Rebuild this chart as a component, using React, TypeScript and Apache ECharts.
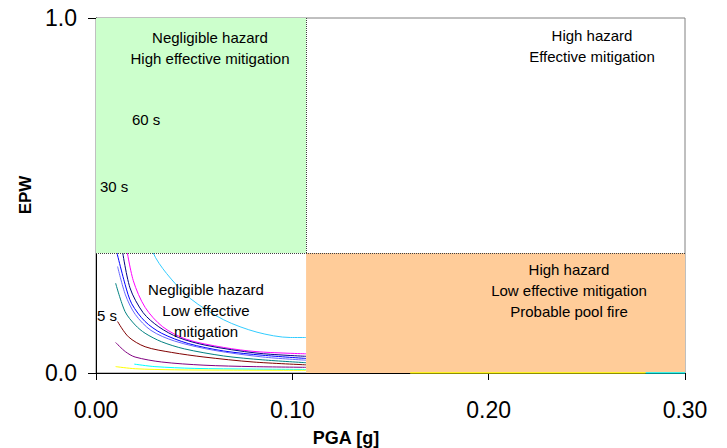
import React, { useEffect, useRef } from "react";
import * as echarts from "echarts";

// Tick labels
const xTicks = ["0.00", "0.10", "0.20", "0.30"];
const yTicks = ["0.0", "1.0"];

// Region boundaries
const pgaLimit = 0.107;
const epwLimit = 0.338;

// Curves [PGA, EPW]
const skyBlueCurve = [[0.0097, 1.0], [0.015, 0.7], [0.022, 0.47], [0.029, 0.34], [0.036, 0.28], [0.048, 0.21], [0.065, 0.15], [0.082, 0.115], [0.099, 0.1], [0.107, 0.1]];
const magentaCurve = [[0.0153, 0.36], [0.019, 0.26], [0.025, 0.185], [0.034, 0.13], [0.046, 0.095], [0.065, 0.072], [0.082, 0.06], [0.107, 0.054]];
const navyCurve = [[0.013, 0.36], [0.0173, 0.24], [0.024, 0.17], [0.032, 0.13], [0.042, 0.1], [0.056, 0.078], [0.082, 0.056], [0.107, 0.047]];
const blueCurve = [[0.0097, 0.36], [0.0148, 0.25], [0.0182, 0.195], [0.025, 0.145], [0.0334, 0.112], [0.047, 0.083], [0.065, 0.062], [0.085, 0.05], [0.107, 0.041]];
const slateCurve = [[0.011, 0.3], [0.015, 0.22], [0.02, 0.165], [0.028, 0.12], [0.04, 0.09], [0.06, 0.064], [0.085, 0.045], [0.107, 0.036]];
const tealCurve = [[0.01, 0.253], [0.0148, 0.173], [0.02, 0.135], [0.025, 0.112], [0.0334, 0.088], [0.045, 0.068], [0.065, 0.048], [0.085, 0.037], [0.107, 0.029]];
const maroonCurve = [[0.011, 0.145], [0.0165, 0.102], [0.025, 0.074], [0.0385, 0.058], [0.055, 0.045], [0.08, 0.031], [0.107, 0.023]];
const purpleCurve = [[0.01, 0.086], [0.015, 0.06], [0.0199, 0.045], [0.0334, 0.031], [0.055, 0.022], [0.08, 0.018], [0.107, 0.016]];
const cyanCurve = [[0.0195, 0.025], [0.03, 0.018], [0.05, 0.013], [0.08, 0.011], [0.107, 0.01]];
const yellowCurve = [[0.01, 0.018], [0.02, 0.012], [0.04, 0.009], [0.07, 0.008], [0.107, 0.0076]];
const yellowTail = [[0.16, 0], [0.28, 0]];
const cyanTail = [[0.28, 0], [0.3, 0]];

const curves = [
  { data: skyBlueCurve, color: "#33CCFF" },
  { data: magentaCurve, color: "#FF00FF" },
  { data: navyCurve, color: "#000080" },
  { data: blueCurve, color: "#0000FF" },
  { data: slateCurve, color: "#6666FF" },
  { data: tealCurve, color: "#008080" },
  { data: maroonCurve, color: "#800000" },
  { data: purpleCurve, color: "#800080" },
  { data: cyanCurve, color: "#00FFFF" },
  { data: yellowCurve, color: "#FFFF00" },
];

const FONT = "Liberation Sans, Arial, sans-serif";

export default function App() {
  const ref = useRef<HTMLDivElement>(null);
  useEffect(() => {
    if (!ref.current) return;
    const chart = echarts.init(ref.current, null, { renderer: "svg" });
    const lineSeries = curves.map((c) => ({
      type: "line",
      data: c.data,
      showSymbol: false,
      smooth: 0.3,
      z: 2,
      lineStyle: { color: c.color, width: 1 },
      silent: true,
    }));
    const tails = [
      { data: yellowTail, color: "#FFFF00" },
      { data: cyanTail, color: "#00FFFF" },
    ].map((c) => ({
      type: "line",
      data: c.data,
      showSymbol: false,
      z: 6,
      lineStyle: { color: c.color, width: 1.5 },
      silent: true,
    }));
    const textStyle = (text: string, x: number, y: number, align = "center") => ({
      type: "text",
      x,
      y,
      z: 10,
      style: {
        text,
        fontSize: 15,
        fontFamily: FONT,
        fill: "#000",
        align,
        verticalAlign: "middle",
        lineHeight: 21,
      },
    });
    chart.setOption({
      animation: false,
      grid: {
        left: 96,
        right: 42,
        top: 18,
        bottom: 75,
        show: true,
        borderColor: "#808080",
        borderWidth: 1,
        backgroundColor: "transparent",
      },
      xAxis: {
        type: "value",
        min: 0,
        max: 0.3,
        interval: 0.1,
        axisLine: { show: true, onZero: false, lineStyle: { color: "#000", width: 1 } },
        axisTick: { show: true, inside: false, length: 7, lineStyle: { color: "#000" } },
        splitLine: { show: false },
        axisLabel: {
          margin: 25,
          fontSize: 23,
          fontFamily: FONT,
          color: "#000",
          formatter: (v: number) => xTicks[Math.round(v * 10)] ?? "",
        },
      },
      yAxis: {
        type: "value",
        min: 0,
        max: 1,
        interval: 1,
        axisLine: { show: true, onZero: false, lineStyle: { color: "#000", width: 1 } },
        axisTick: { show: true, inside: false, length: 8, lineStyle: { color: "#000" } },
        splitLine: { show: false },
        axisLabel: {
          margin: 19,
          fontSize: 23,
          fontFamily: FONT,
          color: "#000",
          formatter: (v: number) => yTicks[Math.round(v)] ?? "",
        },
      },
      series: [
        ...lineSeries,
        {
          type: "line",
          data: [[0, 0]],
          showSymbol: false,
          z: 4,
          silent: true,
          lineStyle: { opacity: 0 },
          markArea: {
            silent: true,
            z: 4,
            itemStyle: { opacity: 1 },
            data: [
              [
                { xAxis: 0, yAxis: epwLimit, itemStyle: { color: "#CCFFCC", opacity: 1 } },
                { xAxis: pgaLimit, yAxis: 1 },
              ],
              [
                { xAxis: pgaLimit, yAxis: 0, itemStyle: { color: "#FFCC99", opacity: 1 } },
                { xAxis: 0.3, yAxis: epwLimit },
              ],
            ],
          },
          markLine: {
            silent: true,
            z: 5,
            symbol: ["none", "none"],
            label: { show: false },
            lineStyle: { color: "#404040", type: "dotted", width: 1 },
            data: [
              [
                { coord: [0, epwLimit] },
                { coord: [0.3, epwLimit] },
              ],
              [
                { coord: [pgaLimit, epwLimit] },
                { coord: [pgaLimit, 1] },
              ],
            ],
          },
        },
        ...tails,
      ],
      graphic: [
        textStyle("Negligible hazard\nHigh effective mitigation", 210, 48),
        textStyle("High hazard\nEffective mitigation", 592, 46),
        textStyle("60 s", 132, 119, "left"),
        textStyle("30 s", 100, 186, "left"),
        textStyle("5 s", 97, 315, "left"),
        textStyle("Negligible hazard\nLow effective\nmitigation", 206, 310),
        textStyle("High hazard\nLow effective mitigation\nProbable pool fire", 569, 290),
        {
          type: "text",
          x: 346,
          y: 438,
          z: 10,
          style: {
            text: "PGA [g]",
            fontSize: 18,
            fontWeight: "bold",
            fontFamily: FONT,
            fill: "#000",
            align: "center",
            verticalAlign: "middle",
          },
        },
        {
          type: "text",
          x: 25,
          y: 195,
          rotation: Math.PI / 2,
          z: 10,
          style: {
            text: "EPW",
            fontSize: 17,
            fontWeight: "bold",
            fontFamily: FONT,
            fill: "#000",
            align: "center",
            verticalAlign: "middle",
          },
        },
      ],
    });
    return () => chart.dispose();
  }, []);
  return <div ref={ref} style={{ width: 727, height: 448, position: "absolute", left: 0, top: 0 }} />;
}
